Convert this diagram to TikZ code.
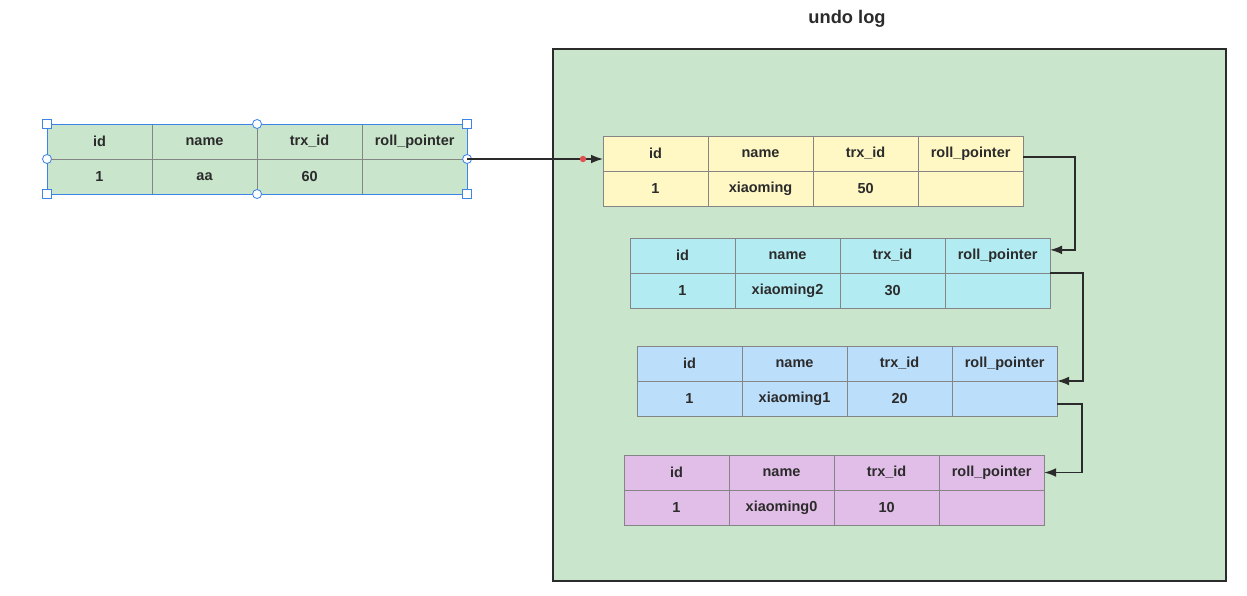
\documentclass[tikz,border=0pt]{standalone}
\usepackage{fontspec}
\setmainfont{Liberation Sans}
\usetikzlibrary{positioning,arrows.meta}

\definecolor{rowgreen}{HTML}{C9E5CB}
\definecolor{rowyellow}{HTML}{FFF8C5}
\definecolor{rowcyan}{HTML}{B2EBF2}
\definecolor{rowblue}{HTML}{BBDEFB}
\definecolor{rowpurple}{HTML}{E1BEE7}
\definecolor{cellline}{HTML}{858585}
\definecolor{inkdark}{HTML}{2B2B2B}
\definecolor{handleblue}{HTML}{3C84E8}
\definecolor{dotred}{HTML}{E05050}

\tikzset{
  cell/.style={draw=cellline, line width=0.7pt, minimum width=2.625cm,
    minimum height=0.875cm, inner sep=0pt, outer sep=0pt,
    text=inkdark, font=\bfseries\fontsize{10.3}{12}\selectfont},
  ptr/.style={draw=inkdark, line width=1pt, -{Latex[length=3mm,width=2.2mm]}},
  handlesq/.style={draw=handleblue, fill=white, line width=0.6pt},
}

% one record of the log: #1 prefix, #2 x, #3 y, #4 colour, #5 id, #6 name, #7 trx_id
\newcommand{\logrecord}[7]{%
  \node[cell, fill=#4, anchor=north west] (#1id) at (#2,#3) {id};
  \node[cell, fill=#4, right=0pt of #1id] (#1name) {name};
  \node[cell, fill=#4, right=0pt of #1name] (#1trx) {trx\_id};
  \node[cell, fill=#4, right=0pt of #1trx] (#1rp) {roll\_pointer};
  \node[cell, fill=#4, below=0pt of #1id] (#1idv) {#5};
  \node[cell, fill=#4, right=0pt of #1idv] (#1namev) {#6};
  \node[cell, fill=#4, right=0pt of #1namev] (#1trxv) {#7};
  \node[cell, fill=#4, right=0pt of #1trxv] (#1rpv) {};
}

\begin{document}
\begin{tikzpicture}[x=0.025cm, y=-0.025cm]
  \useasboundingbox (0,0) rectangle (1247,596);

  % the undo log area
  \draw[draw=inkdark, line width=1.2pt, fill=rowgreen] (553,49) rectangle (1226,581);
  \node[text=inkdark, font=\bfseries\fontsize{13}{15}\selectfont] (title) at (847,19) {undo log};

  % current row
  \logrecord{cur}{47}{124}{rowgreen}{1}{aa}{60}
  \draw[handleblue, line width=0.7pt] (curid.north west) rectangle (currpv.south east);
  \foreach \c in {curid.north west, currp.north east, curidv.south west, currpv.south east}
    \draw[handlesq] ([shift={(-4.5,-4.5)}]\c) rectangle ([shift={(4.5,4.5)}]\c);
  \foreach \c in {curname.north east, curnamev.south east, curid.south west, currp.south east}
    \draw[handlesq] (\c) circle [radius=4.5];

  % old versions
  \logrecord{yel}{603}{136}{rowyellow}{1}{xiaoming}{50}
  \logrecord{cya}{630}{238}{rowcyan}{1}{xiaoming2}{30}
  \logrecord{blu}{637}{346}{rowblue}{1}{xiaoming1}{20}
  \logrecord{pur}{624}{455}{rowpurple}{1}{xiaoming0}{10}

  % roll pointers
  \draw[ptr] (currp.south east) -- (currp.south east -| yelid.west);
  \fill[dotred] (583,159) circle [radius=3.2];
  \draw[ptr] ([yshift=-2.5]yelrp.east) -- ++(52,0) |- ([yshift=4]cyarp.east);
  \draw[ptr] (cyarp.south east) -- ++(33,0) |- (blurp.south east);
  \draw[ptr] ([yshift=-4]blurpv.east) -- ++(25,0) |- (purrp.east);
\end{tikzpicture}
\end{document}
